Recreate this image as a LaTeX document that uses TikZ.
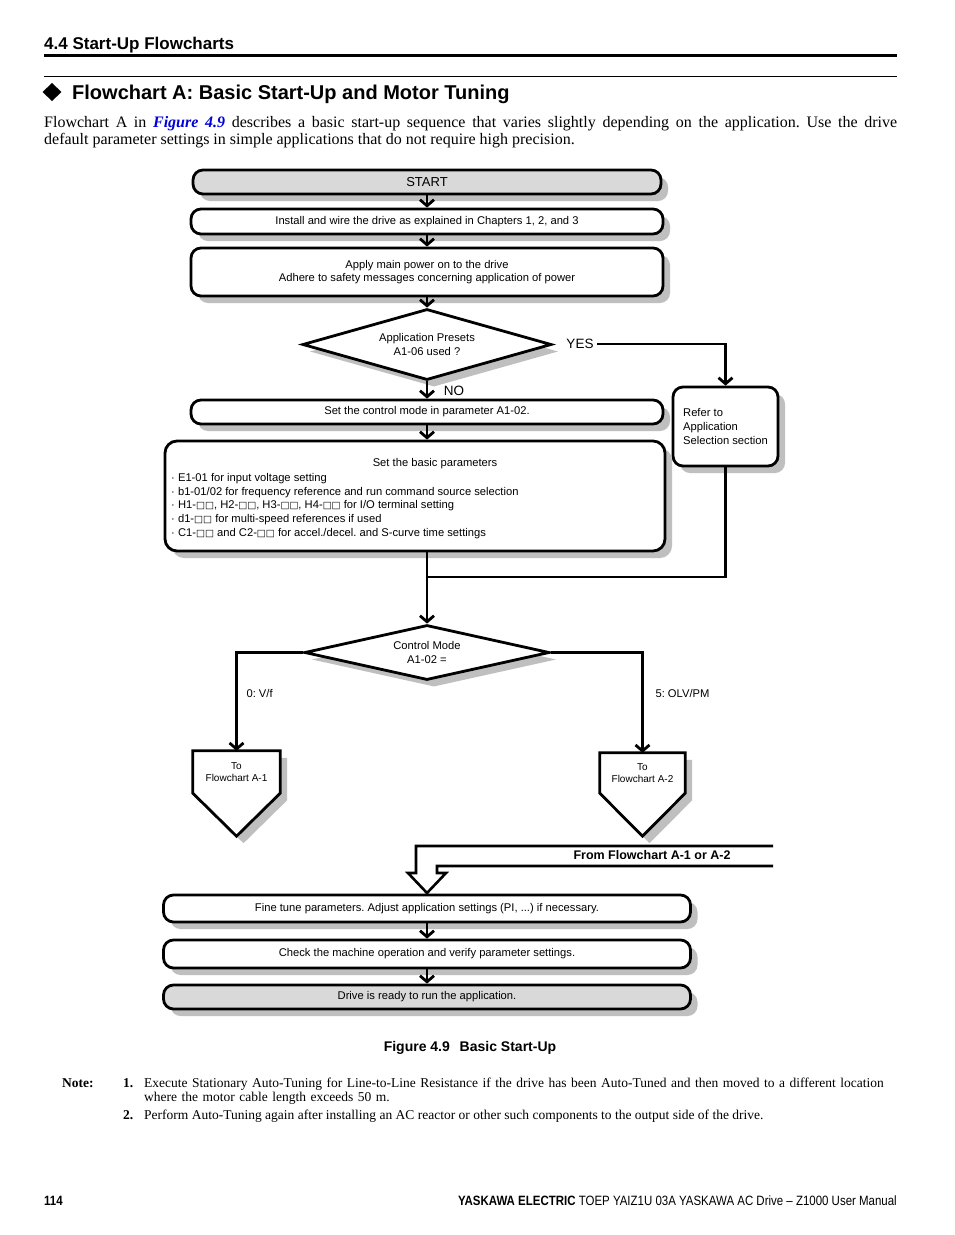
\documentclass[tikz,border=0pt]{standalone}
\usepackage{fontspec}
\setmainfont{Liberation Serif}
\setsansfont{Liberation Sans}
\newfontfamily\narrowsans[FakeStretch=0.85]{Liberation Sans}
\newfontfamily\boxfont{DejaVu Sans}
\usetikzlibrary{positioning}
\usetikzlibrary{backgrounds}
\usetikzlibrary{shapes.geometric}
\usetikzlibrary{shadows}
\usetikzlibrary{calc}
\usetikzlibrary{arrows.meta}

\begin{document}
\frenchspacing
\hyphenpenalty=10000
\begin{tikzpicture}[x = 1pt, y = -1pt, font = \sffamily\fontsize{11.2}{13.8}\selectfont,
  shadowed/.style = {drop shadow = {shadow xshift = 7pt, shadow yshift = -7pt, fill = shade, opacity = 1}},
  box/.style = {draw, line width = 2.8pt, rounded corners = 10pt, fill = white, inner sep = 0pt, align = center, shadowed},
  grey box/.style = {box, fill = endfill},
  decision/.style = {diamond, draw, line width = 2.8pt, fill = white, inner sep = 0pt, align = center, shadowed},
  home plate/.style = {draw, line width = 2.8pt, fill = white, shadowed},
  flow/.style = {line width = 2.8pt, -{Straight Barb[length = 6pt, width = 14pt, line width = 2.8pt]}},
  wire/.style = {line width = 2.8pt},
  answer/.style = {font = \sffamily\fontsize{13.5}{16}\selectfont},
  small/.style = {font = \sffamily\fontsize{10}{12}\selectfont, align = center},
  page text/.style = {anchor = base west, inner sep = 0pt}]
\def\xx{{\boxfont\fontsize{9.5}{10}\selectfont □□}}

\colorlet{shade}{black!25}
\colorlet{endfill}{black!15}
\colorlet{link}{blue!85!black}

\begin{pgfonlayer}{background}
\fill[white] (0, 0) rectangle (954, 1235);
\end{pgfonlayer}
\useasboundingbox (0, 0) rectangle (954, 1235);

\node[page text, font = \sffamily\bfseries\fontsize{17}{20}\selectfont] (section) at (44, 49) {4.4 Start-Up Flowcharts};
\draw[line width = 3pt] (44, 55) -- (897, 55);
\draw[line width = 1pt] (44, 76) -- (897, 76);
\fill (52, 83) -- (61.5, 92) -- (52, 101) -- (42.5, 92) -- cycle;
\node[page text, font = \sffamily\bfseries\fontsize{20}{24}\selectfont] (heading) at (72, 99) {Flowchart A: Basic Start-Up and Motor Tuning};
\node[page text, text width = 853pt, align = justify, font = \rmfamily\fontsize{16}{17}\selectfont] (intro) at (44, 127)
  {Flowchart A in \textcolor{link}{\textbf{\textit{Figure 4.9}}} describes a basic start-up sequence that varies slightly depending on the application. Use the drive\linebreak default parameter settings in simple applications that do not require high precision.};

\node[grey box, minimum width = 468pt, minimum height = 24pt, font = \sffamily\fontsize{13}{15}\selectfont] (start) at (427, 182) {START};
\node[box, minimum width = 472pt, minimum height = 25pt] (install) at (427, 221.5) {Install and wire the drive as explained in Chapters 1, 2, and 3};
\node[box, minimum width = 472pt, minimum height = 48pt] (power) at (427, 272) {Apply main power on to the drive\\Adhere to safety messages concerning application of power};
\node[decision, aspect = 3.5, minimum width = 249pt, minimum height = 71pt] (presets) at (427, 344.5) {Application Presets\\A1-06 used ?};
\node[answer] (yes) at (580, 344) {YES};
\node[answer] (no) at (454, 391) {NO};
\node[box, minimum width = 472pt, minimum height = 24pt] (mode) at (427, 412) {Set the control mode in parameter A1-02.};
\node[box, minimum width = 105pt, minimum height = 79pt, align = left] (refer) at (725.5, 426.5) {Refer to\\Application\\Selection section};
\node[box, minimum width = 500pt, minimum height = 110pt, rounded corners = 12pt] (basic) at (415, 496) {};
\node (basic title) at (435, 464) {Set the basic parameters};
\node[anchor = north west, align = left, inner sep = 0pt] (basic list) at (171, 473)
  {· E1-01 for input voltage setting\\
   · b1-01/02 for frequency reference and run command source selection\\
   · H1-\xx, H2-\xx, H3-\xx, H4-\xx\ for I/O terminal setting\\
   · d1-\xx\ for multi-speed references if used\\
   · C1-\xx\ and C2-\xx\ for accel./decel. and S-curve time settings};
\coordinate (join) at (427, 577);
\node[decision, aspect = 4.45, minimum width = 245pt, minimum height = 55pt] (ctrl) at (427, 652.5) {Control Mode\\A1-02 =};
\node[small, minimum width = 87pt, minimum height = 42pt] (fa1) at (236.5, 772) {To\\Flowchart A-1};
\node[small, minimum width = 85pt, minimum height = 40pt] (fa2) at (642.5, 773) {To\\Flowchart A-2};
\node[anchor = west] (vf) at (243, 693) {0: V/f};
\node[anchor = west] (olv) at (652, 693) {5: OLV/PM};

\node[font = \sffamily\bfseries\fontsize{12.5}{15}\selectfont] (from) at (652, 855) {From Flowchart A-1 or A-2};
\draw[line width = 2.6pt] (773, 846) -- (416, 846) -- (416, 873) -- (408, 873) -- (427, 893)
  -- (446, 873) -- (437, 873) -- (437, 866) -- (773, 866);

\node[box, minimum width = 527pt, minimum height = 27pt] (fine) at (427, 908.5) {Fine tune parameters. Adjust application settings (PI, ...) if necessary.};
\node[box, minimum width = 527pt, minimum height = 28pt] (check) at (427, 954) {Check the machine operation and verify parameter settings.};
\node[grey box, minimum width = 527pt, minimum height = 24pt] (ready) at (427, 997) {Drive is ready to run the application.};

\draw[flow] (start) -- (install);
\draw[flow] (install) -- (power);
\draw[flow] (power) -- (presets);
\draw[flow] (yes.east) -| (refer.north);
\draw[flow] (presets) -- (mode);
\draw[flow] (mode.south) -- (mode.south |- basic.north);
\draw[wire] (refer.south) |- (join);
\draw[flow] (join |- basic.south) -- (ctrl.north);
\draw[flow] (ctrl.west) -| (fa1.north);
\draw[flow] (ctrl.east) -| (fa2.north);
\draw[flow] (fine) -- (check);
\draw[flow] (check) -- (ready);

\begin{pgfonlayer}{background}
\foreach \target in {fa1, fa2}
  \draw[home plate] (\target.north west) -- (\target.north east) -- (\target.south east)
    -- ($(\target.south) + (0, 43)$) -- (\target.south west) -- cycle;
\end{pgfonlayer}

\node[font = \sffamily\bfseries\fontsize{14}{16}\selectfont] (caption) at (470, 1048) {Figure 4.9\hspace{0.7em}Basic Start-Up};

\node[page text, font = \rmfamily\bfseries\fontsize{13.5}{14}\selectfont] (note) at (62, 1087) {Note:};
\node[page text, font = \rmfamily\bfseries\fontsize{13.5}{14}\selectfont] (note one) at (123, 1087) {1.};
\node[page text, text width = 760pt, align = left, font = \rmfamily\fontsize{13.5}{14}\selectfont] (note one text) at (144, 1087)
  {Execute Stationary Auto-Tuning for Line-to-Line Resistance if the drive has been Auto-Tuned and then moved to a different location\\where the motor cable length exceeds 50 m.};
\node[page text, font = \rmfamily\bfseries\fontsize{13.5}{14}\selectfont] (note two) at (123, 1119) {2.};
\node[page text, font = \rmfamily\fontsize{13.5}{14}\selectfont] (note two text) at (144, 1119)
  {Perform Auto-Tuning again after installing an AC reactor or other such components to the output side of the drive.};

\node[page text, font = \narrowsans\bfseries\fontsize{13.5}{16}\selectfont] (page) at (44, 1205) {114};
\node[page text, anchor = base east, font = \narrowsans\fontsize{13.5}{16}\selectfont] (manual) at (897, 1205)
  {\textbf{YASKAWA ELECTRIC} TOEP YAIZ1U 03A YASKAWA AC Drive – Z1000 User Manual};
\end{tikzpicture}
\end{document}
